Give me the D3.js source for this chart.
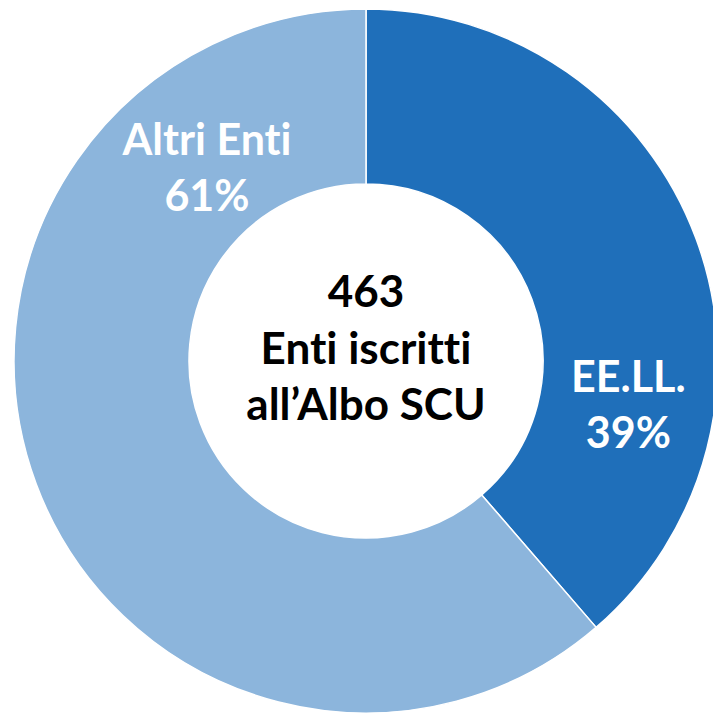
<!DOCTYPE html>
<html>
<head>
<meta charset="utf-8">
<script src="https://cdn.jsdelivr.net/npm/d3@7"></script>
<style>
  body { margin: 0; background: #fff; }
  text { font-family: Lato, "Open Sans", sans-serif; font-weight: bold; font-variant-ligatures: none; font-feature-settings: "liga" 0; }
</style>
</head>
<body>
<div id="chart"></div>
<script>
// categories and counts (463 enti in total)
const categories = ["EE.LL.", "Altri Enti"]
const values = [179, 284]
const colors = ["#1f6fba", "#8cb5dc"]
const centerLines = ["463", "Enti iscritti", "all\u2019Albo SCU"]

const width = 713
const height = 715
const cx = 366
const cy = 361
const outerR = 352
const innerR = 177

const svg = d3.select("#chart")
    .append("svg")
    .attr("width", width)
    .attr("height", height)

const g = svg.append("g")
    .attr("transform", "translate(" + cx + "," + cy + ")")

const total = d3.sum(values)
const pie = d3.pie().sort(null)
const arcs = pie(values)

const arc = d3.arc().innerRadius(innerR).outerRadius(outerR)

g.selectAll("path")
    .data(arcs)
    .join("path")
    .attr("d", arc)
    .attr("fill", (d, i) => colors[i])
    .attr("stroke", "#fff")
    .attr("stroke-width", 1.5)

// label placement (angle in degrees clockwise from top, distance from centre)
const labelPos = [
    { angle: 99.5, dist: 266 },
    { angle: -39.5, dist: 250 }
]

const labels = g.selectAll("g.label")
    .data(arcs)
    .join("g")
    .attr("class", "label")
    .attr("transform", (d, i) => {
        const a = labelPos[i].angle * Math.PI / 180
        return "translate(" + (Math.sin(a) * labelPos[i].dist) + "," + (-Math.cos(a) * labelPos[i].dist) + ")"
    })

labels.append("text")
    .attr("text-anchor", "middle")
    .attr("y", -13)
    .attr("fill", "#fff")
    .attr("font-size", "43px")
    .text((d, i) => categories[i])

labels.append("text")
    .attr("text-anchor", "middle")
    .attr("y", 43)
    .attr("fill", "#fff")
    .attr("font-size", "43px")
    .text(d => Math.round(d.data / total * 100) + "%")

// centre text
g.selectAll("text.center")
    .data(centerLines)
    .join("text")
    .attr("class", "center")
    .attr("text-anchor", "middle")
    .attr("y", (d, i) => -54 + i * 56.5)
    .attr("font-size", "44px")
    .attr("fill", "#000")
    .text(d => d)
</script>
</body>
</html>
